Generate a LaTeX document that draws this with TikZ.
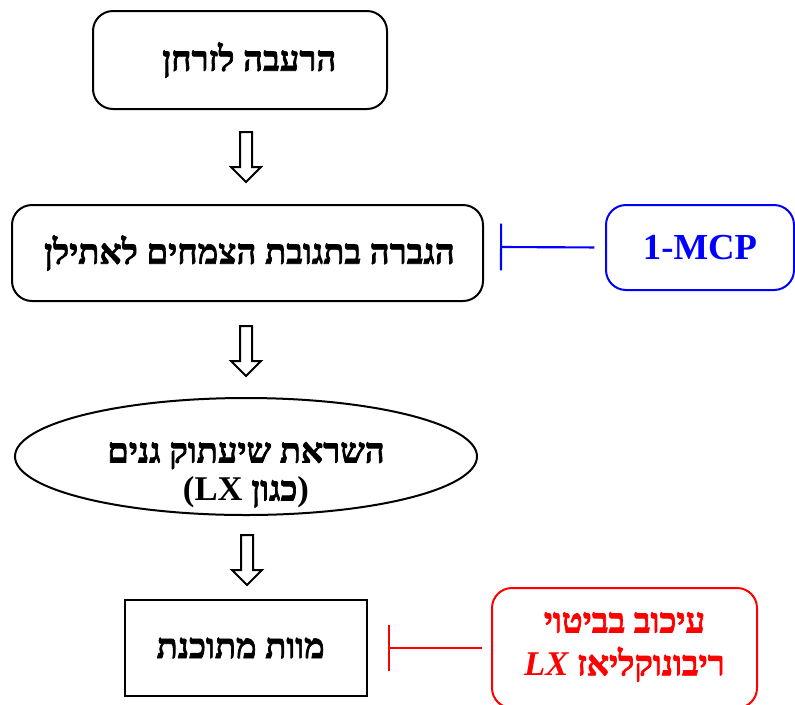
\documentclass[tikz,border=0pt]{standalone}
\usepackage{fontspec}
\setmainfont{Liberation Serif}
\newfontfamily\latinfont{Liberation Serif}
\newfontfamily\hebfont[Script=Hebrew, BoldFont={Liberation Serif Bold}, BoldFeatures={FakeBold=2}]{Liberation Serif}
\TeXXeTstate=1
\usetikzlibrary{arrows.meta,shapes.geometric}
\tikzset{
  txt/.style={font=\hebfont\bfseries\fontsize{26}{28.5}\selectfont, align=center, inner sep=0pt},
  rbox/.style={txt, draw, line width=1.5pt, rounded corners=15pt},
  sbox/.style={txt, draw, line width=1.5pt},
  ebox/.style={draw, line width=1.5pt, ellipse, inner sep=0pt},
  harrow/.style={draw, line width=1.5pt, fill=white, line join=miter},
  inhib/.style={line width=1.6pt, -{Bar[width=35pt,line width=1.6pt]}}
}
\newcommand\hollowdown[1]{%
  \draw[harrow] (#1) ++(-6,0) -- ++(0,35) -- ++(-9,0) -- ++(15,15) -- ++(15,-15) -- ++(-9,0) -- ++(0,-35) -- cycle;}
\newcommand\lat[1]{{\latinfont\bfseries #1}}
\begin{document}
\begin{tikzpicture}[x=0.75pt,y=-0.75pt]
\useasboundingbox[fill=white] (0,0) rectangle (795,704);
\node[rbox, minimum width=294*0.75pt, minimum height=98*0.75pt] (b1) at (240,60) {\hspace*{14pt}\beginR הרעבה לזרחן\endR};
\node[rbox, minimum width=471*0.75pt, minimum height=96*0.75pt] (b2) at (247.5,253) {\hspace*{3pt}\beginR הגברה בתגובת הצמחים לאתילן\endR};
\node[ebox, minimum width=462*0.75pt, minimum height=117*0.75pt] (b3) at (246,456.5) {};
\node[txt] (b3t) at (246,475) {\beginR השראת שיעתוק גנים\endR\\\lat{(LX }\beginR כגון\endR\lat{)}};
\node[sbox, minimum width=242*0.75pt, minimum height=96*0.75pt] (b4) at (246,648) {\beginR מוות מתוכנת\endR\hspace*{8pt}};
\node[rbox, draw=blue, text=blue, minimum width=188*0.75pt, minimum height=85*0.75pt, font=\latinfont\bfseries\fontsize{27.5}{30}\selectfont] (mcp) at (700,247.5) {1-MCP};
\node[rbox, draw=red, minimum width=265*0.75pt, minimum height=120*0.75pt] (lx) at (624.5,648) {};
\node[txt, text=red, font=\hebfont\bfseries\fontsize{26}{32}\selectfont] (lxt) at (624.5,647) {\beginR עיכוב בביטוי\endR\\\beginR ריבונוקליאז \beginL{\latinfont\bfseries\itshape LX}\endL\endR};
\coordinate (a1) at (246,132);
\coordinate (a2) at (246,326);
\coordinate (a3) at (247,535);
\hollowdown{a1}
\hollowdown{a2}
\hollowdown{a3}
\coordinate (ib) at (500,247);
\coordinate (ir) at (388,648);
\draw[inhib, blue, shorten <=8pt] (mcp.west) -- (ib);
\draw[inhib, red, shorten <=7pt] (lx.west) -- (ir);
\end{tikzpicture}
\end{document}
